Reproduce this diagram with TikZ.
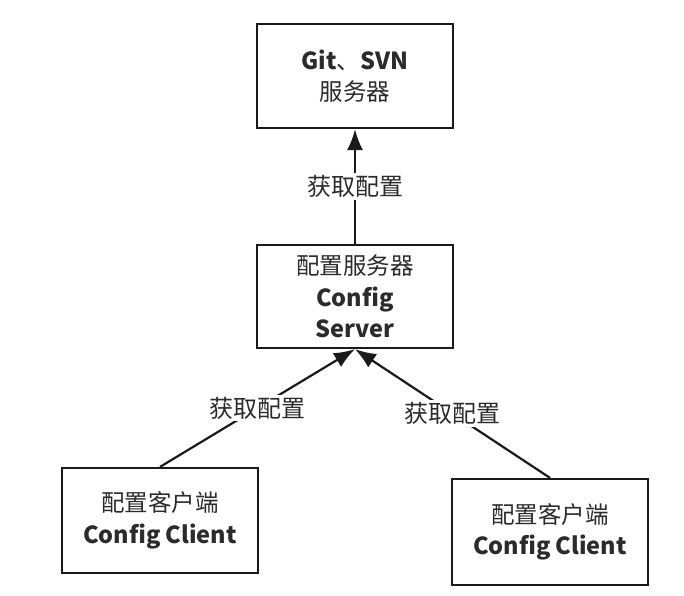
\documentclass[tikz,border=0pt]{standalone}
\usepackage{fontspec}
\setmainfont{Noto Sans CJK SC}
\usetikzlibrary{arrows.meta}
\definecolor{ink}{HTML}{1A1A1A}
\definecolor{txt}{HTML}{2B2B2B}
\newcommand{\lat}[1]{{\bfseries #1}}
\tikzset{
  box/.style={draw=ink, line width=2.2pt, rectangle, minimum width=196pt, align=center, text=txt, font=\fontsize{23.5}{31.5}\selectfont, inner sep=0pt},
  arr/.style={draw=ink, line width=2.2pt, -{Latex[length=21pt,width=16pt]}},
  lbl/.style={fill=white, text=txt, font=\fontsize{24}{26}\selectfont, inner sep=2pt}
}
\begin{document}
\begin{tikzpicture}[x=1pt,y=-1pt]
\useasboundingbox[fill=white] (0,0) rectangle (684,595);
\node[box, minimum height=104pt] (git) at (355,76) {\lat{Git}、\lat{SVN}\\服务器};
\node[box, minimum height=103pt] (srv) at (355,296.5) {配置服务器\\\lat{Config}\\\lat{Server}};
\node[box, minimum height=105pt] (lc) at (160,520.5) {配置客户端\\\lat{Config Client}};
\node[box, minimum height=106pt] (rc) at (550,532) {配置客户端\\\lat{Config Client}};
\draw[arr] (srv.north) -- node[lbl]{获取配置} (git.south);
\draw[arr] (lc.north) -- node[lbl]{获取配置} (srv.south);
\draw[arr] (rc.north) -- node[lbl]{获取配置} (srv.south);
\end{tikzpicture}
\end{document}
